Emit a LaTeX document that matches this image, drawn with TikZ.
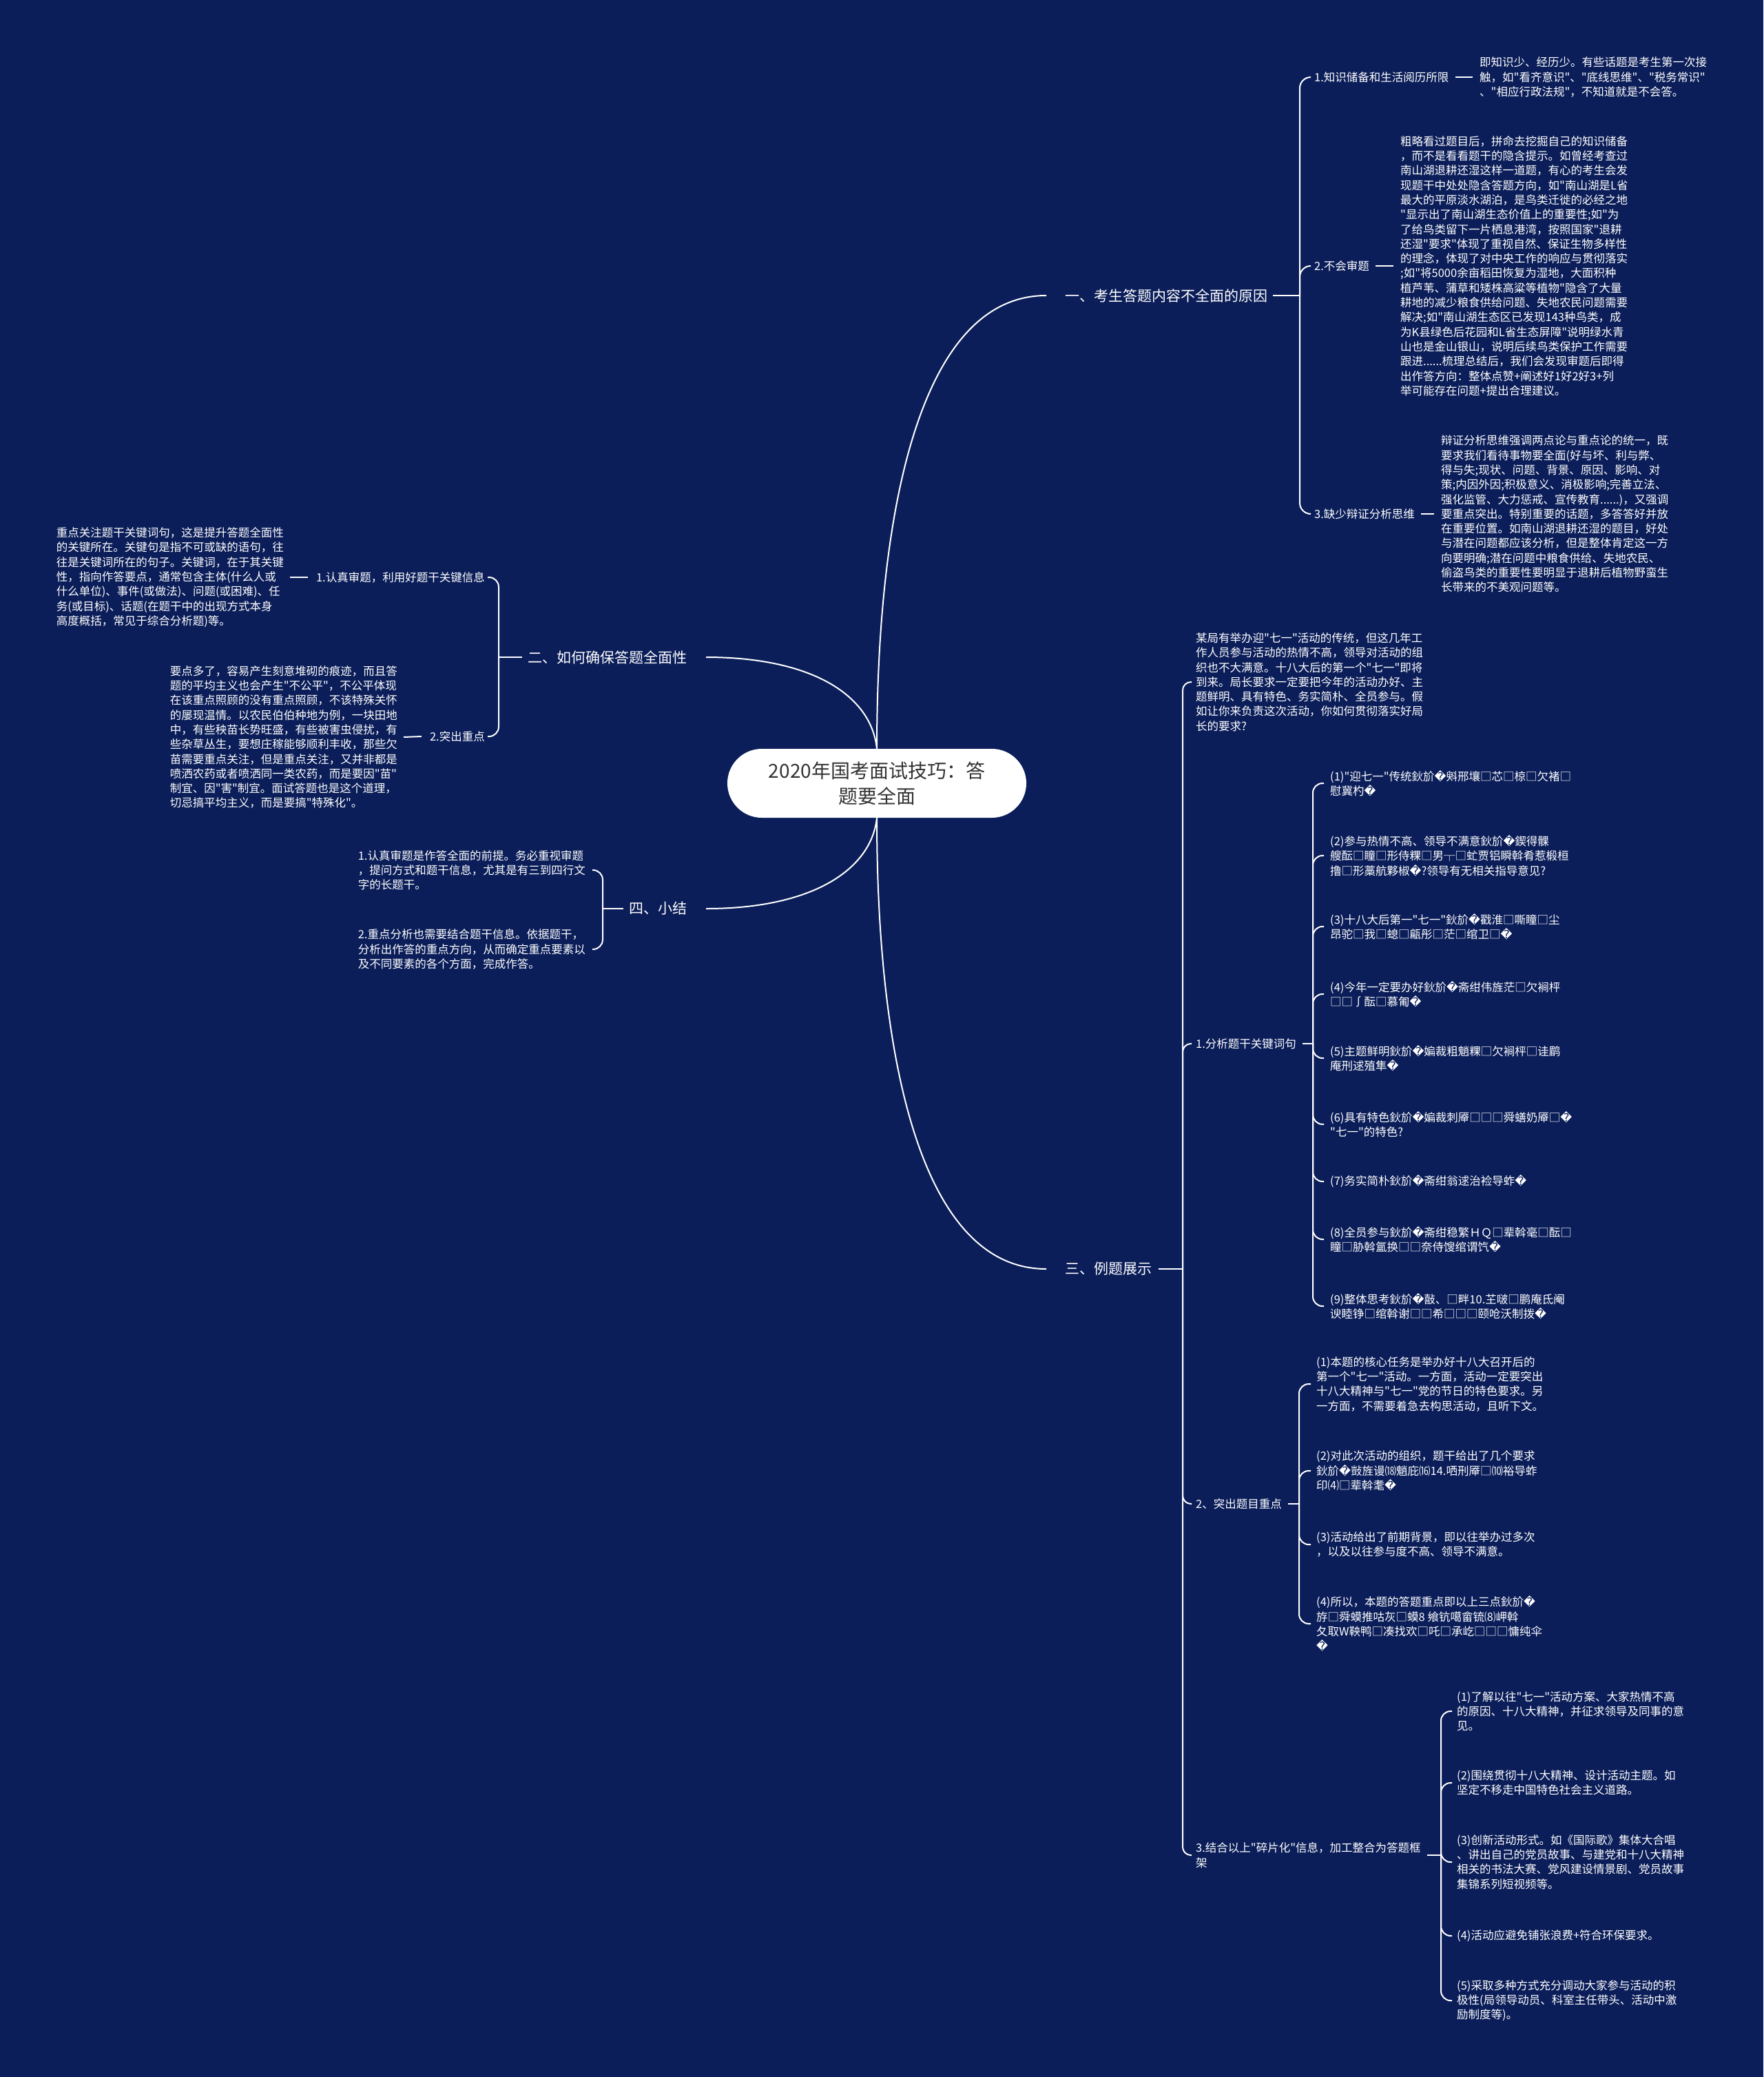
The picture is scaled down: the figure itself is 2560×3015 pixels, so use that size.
\documentclass[tikz,border=0pt]{standalone}
\usepackage{fontspec}
\newfontfamily\cjkfont{Noto Sans CJK SC}
\newfontfamily\dvfont{DejaVu Sans}
\usetikzlibrary{positioning}
\definecolor{bgblue}{RGB}{11,30,89}
\definecolor{rootgray}{RGB}{51,51,51}
\newcommand{\rc}{{\dvfont ^^^^fffd}}
\tikzset{
  lk/.style={draw=white, line width=2pt},
  body/.style={text=white, inner sep=0pt, align=left, font=\cjkfont\fontsize{16.5}{21.3}\selectfont},
  ttl/.style={text=white, inner sep=0pt, font=\cjkfont\fontsize{21}{26}\selectfont},
  root/.style={fill=white, text=rootgray, rounded corners=50pt, minimum width=434pt,
    minimum height=100pt, inner sep=0pt, align=center, font=\cjkfont\fontsize{28}{37}\selectfont}
}

\begin{document}
\begin{tikzpicture}[x=1pt, y=-1pt]
      \useasboundingbox (0,0) rectangle (2560,3015);
      \fill[bgblue] (0,0) rectangle (2560,3015);
      \node[root] (root) at (1273,1137) {2020年国考面试技巧：答\\题要全面};
      % titles
      \node[ttl, anchor=west] (t1) at (1546,429) {一、考生答题内容不全面的原因};
      \node[ttl, anchor=east] (t2) at (998,954) {二、如何确保答题全面性};
      \node[ttl, anchor=west] (t3) at (1546,1842) {三、例题展示};
      \node[ttl, anchor=east] (t4) at (998,1319) {四、小结};
      \draw[lk] (root.north) .. controls (1273,760) and (1330,429) .. ([xshift=-27pt]t1.west);
      \draw[lk] (root.south) .. controls (1273,1514) and (1330,1842) .. ([xshift=-27pt]t3.west);
      \draw[lk] (root.north) .. controls (1265,1010) and (1180,954) .. ([xshift=27pt]t2.east);
      \draw[lk] (root.south) .. controls (1265,1262) and (1180,1319) .. ([xshift=27pt]t4.east);
      % branch 1
      \coordinate (j1) at (1887,429);
      \node[body, anchor=west] (k11) at (1908,112) {1.知识储备和生活阅历所限};
      \node[body, anchor=west] (k12) at (1908,386) {2.不会审题};
      \node[body, anchor=west] (k13) at (1908,746) {3.缺少辩证分析思维};
      \node[body, anchor=west] (d11) at (2148,112) {即知识少、经历少。有些话题是考生第一次接\\触，如"看齐意识"、"底线思维"、"税务常识"\\、"相应行政法规"，不知道就是不会答。};
      \node[body, anchor=west] (d12) at (2033,386) {粗略看过题目后，拼命去挖掘自己的知识储备\\，而不是看看题干的隐含提示。如曾经考查过\\南山湖退耕还湿这样一道题，有心的考生会发\\现题干中处处隐含答题方向，如"南山湖是L省\\最大的平原淡水湖泊，是鸟类迁徙的必经之地\\"显示出了南山湖生态价值上的重要性;如"为\\了给鸟类留下一片栖息港湾，按照国家"退耕\\还湿"要求"体现了重视自然、保证生物多样性\\的理念，体现了对中央工作的响应与贯彻落实\\;如"将5000余亩稻田恢复为湿地，大面积种\\植芦苇、蒲草和矮株高粱等植物"隐含了大量\\耕地的减少粮食供给问题、失地农民问题需要\\解决;如"南山湖生态区已发现143种鸟类，成\\为K县绿色后花园和L省生态屏障"说明绿水青\\山也是金山银山，说明后续鸟类保护工作需要\\跟进......梳理总结后，我们会发现审题后即得\\出作答方向：整体点赞+阐述好1好2好3+列\\举可能存在问题+提出合理建议。};
      \node[body, anchor=west] (d13) at (2092,746) {辩证分析思维强调两点论与重点论的统一，既\\要求我们看待事物要全面(好与坏、利与弊、\\得与失;现状、问题、背景、原因、影响、对\\策;内因外因;积极意义、消极影响;完善立法、\\强化监管、大力惩戒、宣传教育......)，又强调\\要重点突出。特别重要的话题，多答答好并放\\在重要位置。如南山湖退耕还湿的题目，好处\\与潜在问题都应该分析，但是整体肯定这一方\\向要明确;潜在问题中粮食供给、失地农民、\\偷盗鸟类的重要性要明显于退耕后植物野蛮生\\长带来的不美观问题等。};
      \draw[lk] ([xshift=8pt]t1.east) -- (j1);
      \foreach \n in {k11,k12,k13} \draw[lk, rounded corners=16pt] (j1) |- ([xshift=-5pt]\n.west);
      \foreach \n/\m in {k11/d11, k12/d12, k13/d13} \draw[lk] ([xshift=9pt]\n.east) -- ([xshift=-10pt]\m.west);
      % branch 2
      \coordinate (j2) at (724,954);
      \node[body, anchor=east] (k21) at (704,838) {1.认真审题，利用好题干关键信息};
      \node[body, anchor=east] (k22) at (704,1069) {2.突出重点};
      \node[body, anchor=east] (d21) at (412,838) {重点关注题干关键词句，这是提升答题全面性\\的关键所在。关键句是指不可或缺的语句，往\\往是关键词所在的句子。关键词，在于其关键\\性，指向作答要点，通常包含主体(什么人或\\什么单位)、事件(或做法)、问题(或困难)、任\\务(或目标)、话题(在题干中的出现方式本身\\高度概括，常见于综合分析题)等。};
      \node[body, anchor=east] (d22) at (577,1070) {要点多了，容易产生刻意堆砌的痕迹，而且答\\题的平均主义也会产生"不公平"，不公平体现\\在该重点照顾的没有重点照顾，不该特殊关怀\\的屡现温情。以农民伯伯种地为例，一块田地\\中，有些秧苗长势旺盛，有些被害虫侵扰，有\\些杂草丛生，要想庄稼能够顺利丰收，那些欠\\苗需要重点关注，但是重点关注，又并非都是\\喷洒农药或者喷洒同一类农药，而是要因"苗"\\制宜、因"害"制宜。面试答题也是这个道理，\\切忌搞平均主义，而是要搞"特殊化"。};
      \draw[lk] ([xshift=-9pt]t2.west) -- (j2);
      \foreach \n in {k21,k22} \draw[lk, rounded corners=14pt] (j2) |- ([xshift=4pt]\n.east);
      \foreach \n/\m in {k21/d21, k22/d22} \draw[lk] ([xshift=-12pt]\n.west) -- ([xshift=9pt]\m.east);
      % branch 4
      \coordinate (j4) at (875,1319);
      \node[body, anchor=east] (d41) at (850,1263) {1.认真审题是作答全面的前提。务必重视审题\\，提问方式和题干信息，尤其是有三到四行文\\字的长题干。};
      \node[body, anchor=east] (d42) at (850,1378) {2.重点分析也需要结合题干信息。依据题干，\\分析出作答的重点方向，从而确定重点要素以\\及不同要素的各个方面，完成作答。};
      \draw[lk] ([xshift=-9pt]t4.west) -- (j4);
      \foreach \n in {d41,d42} \draw[lk, rounded corners=14pt] (j4) |- ([xshift=10pt]\n.east);
      % branch 3
      \coordinate (j3) at (1717,1842);
      \node[body, anchor=west] (q0) at (1736,990) {某局有举办迎"七一"活动的传统，但这几年工\\作人员参与活动的热情不高，领导对活动的组\\织也不大满意。十八大后的第一个"七一"即将\\到来。局长要求一定要把今年的活动办好、主\\题鲜明、具有特色、务实简朴、全员参与。假\\如让你来负责这次活动，你如何贯彻落实好局\\长的要求?};
      \node[body, anchor=west] (k31) at (1736,1515) {1.分析题干关键词句};
      \node[body, anchor=west] (k32) at (1736,2183) {2、突出题目重点};
      \node[body, anchor=west] (k33) at (1736,2693) {3.结合以上"碎片化"信息，加工整合为答题框\\架};
      \draw[lk] ([xshift=10pt]t3.east) -- (j3);
      \foreach \n in {q0,k31,k32,k33} \draw[lk, rounded corners=12pt] (j3) |- ([xshift=-6pt]\n.west);
      % 3.1
      \coordinate (j31) at (1906,1515);
      \node[body, anchor=west] (p1) at (1931,1137) {(1)"迎七一"传统鈥斺\rc 斞邢壤□芯□椋□欠褚□\\慰冀杓\rc};
      \node[body, anchor=west] (p2) at (1931,1242) {(2)参与热情不高、领导不满意鈥斺\rc 鍥得髁\\艘酝□瞳□形侍粿□男┬□虻贾铝瞬斡肴惹椴桓\\撸□形藁航夥椒\rc ?领导有无相关指导意见?};
      \node[body, anchor=west] (p3) at (1931,1345) {(3)十八大后第一"七一"鈥斺\rc 戳淮□嘶瞳□尘\\昂驼□我□螅□甂彤□茫□绾卫□\rc};
      \node[body, anchor=west] (p4) at (1931,1443) {(4)今年一定要办好鈥斺\rc 斋绀伟旌茫□欠裥枰\\□□∫酝□慕匍\rc};
      \node[body, anchor=west] (p5) at (1931,1536) {(5)主题鲜明鈥斺\rc 媥裁粗魈粿□欠裥枰□诖鹛\\庵刑逑殖隼\rc};
      \node[body, anchor=west] (p6) at (1931,1632) {(6)具有特色鈥斺\rc 媥裁刺厣□□□舜蟮奶厣□\rc\\"七一"的特色?};
      \node[body, anchor=west] (p7) at (1931,1715) {(7)务实简朴鈥斺\rc 斋绀翁逑治裣导蚱\rc};
      \node[body, anchor=west] (p8) at (1931,1799) {(8)全员参与鈥斺\rc 斋绀稳繁ＨＱ□辈斡毫□酝□\\瞳□胁斡氲换□□奈侍馊绾谓饩\rc};
      \node[body, anchor=west] (p9) at (1931,1896) {(9)整体思考鈥斺\rc 敼、□畔10.芏啵□鹏庵氐阉\\谀睦铮□绾斡谢□□希□□□颐呛沃制拨\rc};
      \draw[lk] ([xshift=9pt]k31.east) -- (j31);
      \foreach \n in {p1,p2,p3,p4,p5,p6,p7,p8,p9} \draw[lk, rounded corners=14pt] (j31) |- ([xshift=-9pt]\n.west);
      % 3.2
      \coordinate (j32) at (1886,2183);
      \node[body, anchor=west] (r1) at (1911,2009) {(1)本题的核心任务是举办好十八大召开后的\\第一个"七一"活动。一方面，活动一定要突出\\十八大精神与"七一"党的节日的特色要求。另\\一方面，不需要着急去构思活动，且听下文。};
      \node[body, anchor=west] (r2) at (1911,2135) {(2)对此次活动的组织，题干给出了几个要求\\鈥斺\rc 敱旌谩⒅魈庇⒃14.哂刑厣□⑽裕导蚱\\印⑷□辈斡耄\rc};
      \node[body, anchor=west] (r3) at (1911,2242) {(3)活动给出了前期背景，即以往举办过多次\\，以及以往参与度不高、领导不满意。};
      \node[body, anchor=west] (r4) at (1911,2357) {(4)所以，本题的答题重点即以上三点鈥斺\rc\\斿□舜蟆推咕灰□蟆8 飨钪噶畲锍⑻岬斡\\夂取W鞅鸭□凑找欢□吒□承屹□□□慵纯伞\\\rc};
      \draw[lk] ([xshift=9pt]k32.east) -- (j32);
      \foreach \n in {r1,r2,r3,r4} \draw[lk, rounded corners=14pt] (j32) |- ([xshift=-8pt]\n.west);
      % 3.3
      \coordinate (j33) at (2092,2693);
      \node[body, anchor=west] (s1) at (2115,2484) {(1)了解以往"七一"活动方案、大家热情不高\\的原因、十八大精神，并征求领导及同事的意\\见。};
      \node[body, anchor=west] (s2) at (2115,2588) {(2)围绕贯彻十八大精神、设计活动主题。如\\坚定不移走中国特色社会主义道路。};
      \node[body, anchor=west] (s3) at (2115,2703) {(3)创新活动形式。如《国际歌》集体大合唱\\、讲出自己的党员故事、与建党和十八大精神\\相关的书法大赛、党风建设情景剧、党员故事\\集锦系列短视频等。};
      \node[body, anchor=west] (s4) at (2115,2810) {(4)活动应避免铺张浪费+符合环保要求。};
      \node[body, anchor=west] (s5) at (2115,2904) {(5)采取多种方式充分调动大家参与活动的积\\极性(局领导动员、科室主任带头、活动中激\\励制度等)。};
      \draw[lk] ([xshift=9pt]k33.east) -- (j33);
      \foreach \n in {s1,s2,s3,s4,s5} \draw[lk, rounded corners=14pt] (j33) |- ([xshift=-7pt]\n.west);
    \end{tikzpicture}
\end{document}
